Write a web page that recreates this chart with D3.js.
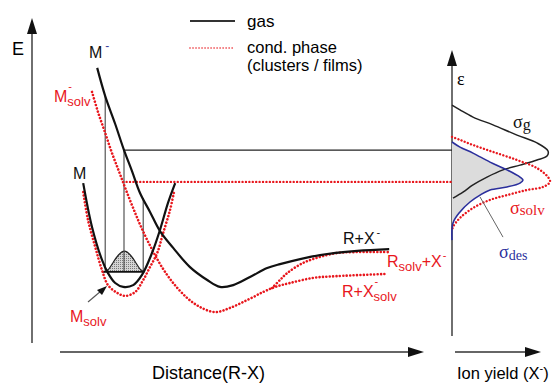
<!DOCTYPE html>
<html>
<head>
<meta charset="utf-8">
<script src="https://d3js.org/d3.v7.min.js"></script>
<style>
  body { margin: 0; background: #fff; }
  text { font-family: "Liberation Sans", Arial, sans-serif; }
  .serif { font-family: "Liberation Serif", "Times New Roman", serif; }
</style>
</head>
<body>
<div id="chart"></div>
<script>
// Schematic potential curves (left) and ion yield vs electron energy (right)
var width = 554,
    height = 383;

var red = "#e8171d",
    blue = "#2b2f9c";

// ---- data: [distance, energy] in diagram units ----
var gasNeutral = [[12.8,53.3],[15,38.7],[17.5,27.7],[19,23.3],[20.8,20],[22.8,18.7],
  [25.3,19.3],[27.5,22.7],[30,30],[32,37.7],[34,46.7],[35.8,53.3]];

var condNeutral = [[12.8,50.3],[14,41],[15.8,32],[17.5,24.3],[19,19.3],[21.3,16.7],
  [23.3,15.7],[25.8,17],[27.8,21],[29.5,25.3],[31.3,30],[32.8,36.7],[34.5,44.3],[35.5,50.3]];

var gasAnion = [[16.3,91.7],[18.3,82.3],[20.8,73],[23,64.3],[25,57.3],[27,50],
  [29.5,43.7],[32,37.3],[35.3,31.7],[39.5,25.3],[43.8,21],[47,18.7],[50.3,19.3],
  [54.5,22],[58.8,25],[62,26.3],[72,29.3],[81.3,30.7],[89.3,31.3]];

var condAnion = [[15,83.7],[16.5,77],[18.3,70],[20,63.3],[21.8,57],[23.5,51],
  [25.5,44.3],[27.5,38],[29.8,31.7],[32.3,25.7],[35.3,20],[38.8,15],[42,12],
  [45.8,10.3],[49.5,11.7],[53.8,14.3],[57.8,17],[60.8,18.7],[64.5,20],[70.3,21.7],
  [76.3,22.3],[88.3,23]];

var condBranch = [[60,18.3],[62,21],[63.8,23.3],[67.8,26.7],[72,28.7],[76.3,30],
  [80.3,30.3],[89,30.3]];

// vertical (Franck-Condon) transitions: distance, top energy
var transitions = [{x: 18.3, top: 82.3}, {x: 23, top: 64.3}, {x: 27.8, top: 48.3}];
var baseLevel = 23.7,
    baseSpan = [17.5, 27.8];
var wavePacket = [[18,23.7],[19.2,24.3],[20.3,27],[21.5,29.3],[23.1,31.3],
  [24.7,29.3],[25.9,27],[27,24.3],[28.2,23.7]];

var gasLevel = 64.3,   // black horizontal line
    condLevel = 53.7;  // red horizontal line

// ---- right panel: [ion yield, energy] ----
var sigmaGas = [[0,79.3],[8,77.7],[21,75.3],[41,72.7],[65,69.3],[85,66.7],[96,64],
  [95,62.3],[85,61],[68,59.3],[51,57.7],[35,55.3],[21,52.7],[11,50.3],[1,48.3]];

var sigmaSolv = [[0,68.7],[8,67.7],[21,66],[41,63.7],[65,61],[85,58.3],[96,55.3],
  [98,53.7],[91,52],[75,51],[55,49.3],[38,47.7],[21,45],[8,41.7],[1,38.7],[0,37.3]];

var sigmaDes = [[0,67],[8,65.3],[21,63.3],[38,60.3],[55,57.7],[68,55.3],[71,54.3],
  [68,53.3],[55,52],[38,51],[28,49.3],[18,47],[8,43.7],[1,40],[0,34.3]];

// ---- scales ----
var x = d3.scaleLinear().domain([0, 100]).range([32, 432]);
var y = d3.scaleLinear().domain([0, 100]).range([343, 43]);
var xr = d3.scaleLinear().domain([0, 100]).range([452, 552]);

var svg = d3.select("#chart").append("svg")
    .attr("width", width)
    .attr("height", height);

// stippled fill for the vibrational wave packet
var pat = svg.append("defs").append("pattern")
    .attr("id", "stipple")
    .attr("width", 2).attr("height", 2)
    .attr("patternUnits", "userSpaceOnUse");
pat.append("rect").attr("width", 2).attr("height", 2).attr("fill", "#d4d4d4");
pat.append("rect").attr("width", 1).attr("height", 1).attr("fill", "#7a7a7a");

var line = d3.line()
    .x(function(d) { return x(d[0]); })
    .y(function(d) { return y(d[1]); })
    .curve(d3.curveCatmullRom.alpha(0.5));

var lineR = d3.line()
    .x(function(d) { return xr(d[0]); })
    .y(function(d) { return y(d[1]); })
    .curve(d3.curveCatmullRom.alpha(0.5));

function dotted(sel, w) {
  return sel.attr("fill", "none")
    .attr("stroke", red)
    .attr("stroke-width", w || 2.6)
    .attr("stroke-linecap", "round")
    .attr("stroke-dasharray", "0.01 3.4");
}

function arrowHead(tip, dir) {
  // dir: "up" or "right"
  var p = dir == "up"
    ? [[tip[0], tip[1]], [tip[0] - 5, tip[1] + 16], [tip[0] + 5, tip[1] + 16]]
    : [[tip[0], tip[1]], [tip[0] - 16, tip[1] - 5], [tip[0] - 16, tip[1] + 5]];
  svg.append("path")
    .attr("d", "M" + p.join("L") + "Z")
    .attr("fill", "#111");
}

// ---- axes ----
var axisColor = "#333";
svg.append("line").attr("x1", 32).attr("x2", 32).attr("y1", 343).attr("y2", 30)
    .attr("stroke", axisColor).attr("stroke-width", 1.4);
arrowHead([32, 18], "up");
svg.append("line").attr("x1", 60).attr("x2", 410).attr("y1", 352).attr("y2", 352)
    .attr("stroke", axisColor).attr("stroke-width", 1.4);
arrowHead([424, 352], "right");

svg.append("line").attr("x1", 452).attr("x2", 452).attr("y1", 336).attr("y2", 62)
    .attr("stroke", axisColor).attr("stroke-width", 1.4);
arrowHead([452, 50], "up");
svg.append("line").attr("x1", 455).attr("x2", 527).attr("y1", 352).attr("y2", 352)
    .attr("stroke", axisColor).attr("stroke-width", 1.4);
arrowHead([541, 352], "right");

svg.append("text").attr("x", 12).attr("y", 55).attr("font-size", 18).text("E");
svg.append("text").attr("x", 152).attr("y", 379).attr("font-size", 18).text("Distance(R-X)");
var iy = svg.append("text").attr("x", 457).attr("y", 379).attr("font-size", 16.5);
iy.append("tspan").text("Ion yield (X");
iy.append("tspan").attr("font-size", 11).attr("dy", -7).text("-");
iy.append("tspan").attr("dy", 7).text(")");
svg.append("text").attr("class", "serif").attr("x", 457).attr("y", 85)
    .attr("font-size", 18).text("ε");

// ---- legend ----
svg.append("line").attr("x1", 190).attr("x2", 235).attr("y1", 21).attr("y2", 21)
    .attr("stroke", "#333").attr("stroke-width", 2);
dotted(svg.append("line").attr("x1", 190).attr("x2", 235).attr("y1", 48).attr("y2", 48), 1.6)
    .attr("stroke-dasharray", "0.01 3");
svg.append("text").attr("x", 247).attr("y", 27).attr("font-size", 17).text("gas");
svg.append("text").attr("x", 247).attr("y", 53).attr("font-size", 16.5).text("cond. phase");
svg.append("text").attr("x", 247).attr("y", 71).attr("font-size", 16.5).text("(clusters / films)");

// ---- horizontal energy levels ----
svg.append("line")
    .attr("x1", x(23)).attr("x2", xr(0))
    .attr("y1", y(gasLevel)).attr("y2", y(gasLevel))
    .attr("stroke", "#222").attr("stroke-width", 1.3);
dotted(svg.append("line")
    .attr("x1", x(22.8)).attr("x2", xr(0))
    .attr("y1", y(condLevel)).attr("y2", y(condLevel)), 2.4);

// ---- wave packet and transitions ----
svg.append("path")
    .datum(wavePacket)
    .attr("d", d3.line()
      .x(function(d) { return x(d[0]); })
      .y(function(d) { return y(d[1]); })
      .curve(d3.curveBasis))
    .attr("fill", "url(#stipple)")
    .attr("stroke", "#222")
    .attr("stroke-width", 1.2);

svg.selectAll("line.fc")
    .data(transitions)
  .enter().append("line")
    .attr("class", "fc")
    .attr("x1", function(d) { return x(d.x); })
    .attr("x2", function(d) { return x(d.x); })
    .attr("y1", function(d) { return y(d.top); })
    .attr("y2", y(baseLevel))
    .attr("stroke", "#444")
    .attr("stroke-width", 1.1);

svg.append("line")
    .attr("x1", x(baseSpan[0])).attr("x2", x(baseSpan[1]))
    .attr("y1", y(baseLevel)).attr("y2", y(baseLevel))
    .attr("stroke", "#111").attr("stroke-width", 1.6);

// ---- potential curves ----
dotted(svg.append("path").datum(condNeutral).attr("d", line));
dotted(svg.append("path").datum(condAnion).attr("d", line));
dotted(svg.append("path").datum(condBranch).attr("d", line));

svg.append("path").datum(gasNeutral).attr("d", line)
    .attr("fill", "none").attr("stroke", "#111").attr("stroke-width", 2.2);
svg.append("path").datum(gasAnion).attr("d", line)
    .attr("fill", "none").attr("stroke", "#111").attr("stroke-width", 2.2);

// ---- right panel distributions ----
svg.append("path").datum(sigmaDes).attr("d", lineR)
    .attr("fill", "#dcdcdc").attr("stroke", "none");
svg.append("path").datum(sigmaGas).attr("d", lineR)
    .attr("fill", "none").attr("stroke", "#222").attr("stroke-width", 1.5);
dotted(svg.append("path").datum(sigmaSolv).attr("d", lineR), 2.4);
svg.append("path").datum(sigmaDes).attr("d", lineR)
    .attr("fill", "none").attr("stroke", blue).attr("stroke-width", 1.6);
svg.append("line")
    .attr("x1", xr(28)).attr("y1", y(48.7)).attr("x2", xr(51)).attr("y2", y(35.3))
    .attr("stroke", "#666").attr("stroke-width", 1);

// ---- labels ----
// main text with optional stacked superscript / subscript
function label(px, py, main, sup, sub, color) {
  var g = svg.append("g").attr("fill", color || "#111");
  var t = g.append("text").attr("x", px).attr("y", py).attr("font-size", 16).text(main);
  var w = t.node().getComputedTextLength();
  if (sup) g.append("text").attr("x", px + w + 1).attr("y", py - 12)
      .attr("font-size", 11).text(sup);
  if (sub) g.append("text").attr("x", px + w).attr("y", py + 4)
      .attr("font-size", 13).text(sub);
  return g;
}

var mAnion = svg.append("text").attr("x", 89).attr("y", 58).attr("font-size", 16).attr("fill", "#111");
mAnion.append("tspan").text("M");
mAnion.append("tspan").attr("font-size", 12).attr("dy", -8).attr("dx", 3).attr("fill", "#3b3f9a").text("-");

label(54, 102, "M", "-", "solv", red);
label(73, 179, "M", null, null, "#111");
label(70, 322, "M", null, "solv", red);

// arrow to M_solv well
svg.append("line").attr("x1", 88).attr("y1", 302).attr("x2", 101).attr("y2", 291)
    .attr("stroke", "#555").attr("stroke-width", 1.1);
svg.append("path").attr("d", "M107,286L97,290L102,295Z").attr("fill", "#111");

var rx = svg.append("text").attr("x", 343).attr("y", 244).attr("font-size", 16).attr("fill", "#111");
rx.append("tspan").text("R+X");
rx.append("tspan").attr("font-size", 11).attr("dy", -8).attr("dx", 2).text("-");

var rs = svg.append("text").attr("x", 387).attr("y", 267).attr("font-size", 16).attr("fill", red);
rs.append("tspan").text("R");
rs.append("tspan").attr("font-size", 13).attr("dy", 4).text("solv");
rs.append("tspan").attr("dy", -4).text("+X");
rs.append("tspan").attr("font-size", 11).attr("dy", -8).attr("dx", 1).text("-");

label(342, 297, "R+X", "-", "solv", red);

// sigma labels
var sg = svg.append("text").attr("class", "serif").attr("x", 513).attr("y", 128)
    .attr("font-size", 18).attr("fill", "#111");
sg.append("tspan").text("σ");
sg.append("tspan").attr("font-size", 16).attr("dy", 2).text("g");

var ss = svg.append("text").attr("class", "serif").attr("x", 510).attr("y", 214)
    .attr("font-size", 18).attr("fill", red);
ss.append("tspan").text("σ");
ss.append("tspan").attr("font-size", 15).attr("dy", 1).text("solv");

var sd = svg.append("text").attr("class", "serif").attr("x", 499).attr("y", 258)
    .attr("font-size", 18).attr("fill", blue);
sd.append("tspan").text("σ");
sd.append("tspan").attr("font-size", 14).attr("dy", 2).text("des");
</script>
</body>
</html>
